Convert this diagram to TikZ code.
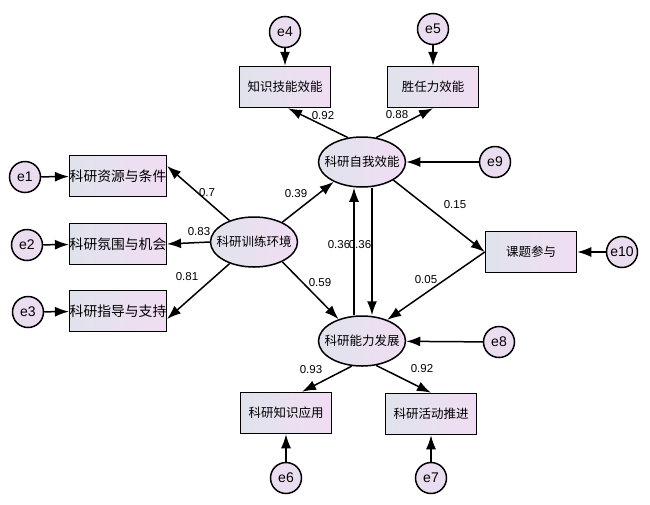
\documentclass[tikz,border=0pt]{standalone}
\usepackage{fontspec}
\setmainfont{Liberation Sans}
\newfontfamily\cjk{Noto Sans CJK SC}
\usetikzlibrary{arrows.meta,shapes.geometric}
\definecolor{boxL}{HTML}{E0E3EC}
\definecolor{boxR}{HTML}{F1DDF3}
\definecolor{errC}{HTML}{EBDDF0}
\tikzset{
  obs/.style={rectangle, draw=black, line width=1.5pt, left color=boxL, right color=boxR,
    minimum width=91pt, minimum height=41pt, inner sep=0pt, font=\cjk\fontsize{12.5}{14}\selectfont},
  obsbig/.style={obs, font=\cjk\fontsize{13.8}{16}\selectfont},
  lat/.style={ellipse, draw=black, line width=1.5pt, left color=boxL, right color=boxR,
    minimum width=87pt, minimum height=50pt, inner xsep=-7pt, inner ysep=0pt, font=\cjk\fontsize{12.5}{14}\selectfont},
  err/.style={circle, draw=black, line width=1.5pt, fill=errC, minimum size=31pt, inner sep=0pt,
    font=\fontsize{14}{16}\selectfont},
  path/.style={draw=black, line width=1.5pt, -{Latex[length=14pt,width=10pt]}},
  coef/.style={font=\fontsize{11.5}{13}\selectfont, inner sep=1pt}
}
\begin{document}
\begin{tikzpicture}[x=1pt,y=-1pt]
\useasboundingbox (0,0) rectangle (650,504);
% latent variables
\node[lat] (env) at (254,242) {科研训练环境};
\node[lat] (self) at (362,162) {科研自我效能};
\node[lat] (dev) at (362,341) {科研能力发展};
% observed
\node[obsbig] (res) at (118,176) {科研资源与条件};
\node[obsbig] (atm) at (118,244) {科研氛围与机会};
\node[obsbig] (gui) at (118,311) {科研指导与支持};
\node[obs] (kn) at (285,87) {知识技能效能};
\node[obs] (comp) at (433,87) {胜任力效能};
\node[obs] (topic) at (531,252) {课题参与};
\node[obs] (kapp) at (286,413) {科研知识应用};
\node[obs] (act) at (431,414) {科研活动推进};
% errors
\node[err] (e1) at (25,177) {e1};
\node[err] (e2) at (27,245) {e2};
\node[err] (e3) at (28,312) {e3};
\node[err] (e4) at (285,32) {e4};
\node[err] (e5) at (433,29) {e5};
\node[err] (e6) at (286,478) {e6};
\node[err] (e7) at (431,478) {e7};
\node[err] (e8) at (499,342) {e8};
\node[err] (e9) at (495,162) {e9};
\node[err] (e10) at (622,252) {e10};
% error arrows
\draw[path] (e1) -- (res);
\draw[path] (e2) -- (atm);
\draw[path] (e3) -- (gui);
\draw[path] (e4) -- (kn);
\draw[path] (e5) -- (comp);
\draw[path] (e6) -- (kapp);
\draw[path] (e7) -- (act);
\draw[path] (e8) -- (dev);
\draw[path] (e9) -- (self);
\draw[path] (e10) -- (topic);
% structural paths
\draw[path] (env) -- ([yshift=10pt]res.east);
\draw[path] (env.west) -- (atm.east);
\draw[path] (env) -- ([yshift=-8pt]gui.east);
\draw[path] (env.35) -- (self.215);
\draw[path] (env.-35) -- (dev.137);
\draw[path] (self.120) -- ([xshift=3pt]kn.south);
\draw[path] (self.60) -- (comp.south);
\draw[path] (self.-30) -- (topic.west);
\draw[path] (topic.west) -- (dev.40);
\draw[path] ([xshift=-8pt]dev.north) -- ([xshift=-8pt]self.south);
\draw[path] ([xshift=10pt]self.south) -- ([xshift=10pt]dev.north);
\draw[path] (dev.-112) -- ([xshift=16pt]kapp.north);
\draw[path] (dev.-60) -- (act.north);
% coefficients
\node[coef] (c1) at (323,116) {0.92};
\node[coef] (c2) at (397,115) {0.88};
\node[coef] (c3) at (207,193) {0.7};
\node[coef] (c4) at (199,232) {0.83};
\node[coef] (c5) at (187,277) {0.81};
\node[coef] (c6) at (296,194) {0.39};
\node[coef] (c7) at (320,283) {0.59};
\node[coef] (c8) at (455,205) {0.15};
\node[coef] (c9) at (426,280) {0.05};
\node[coef] (c10) at (339,245) {0.36};
\node[coef] (c11) at (360,245) {0.36};
\node[coef] (c12) at (311,370) {0.93};
\node[coef] (c13) at (422,369) {0.92};
\end{tikzpicture}
\end{document}
